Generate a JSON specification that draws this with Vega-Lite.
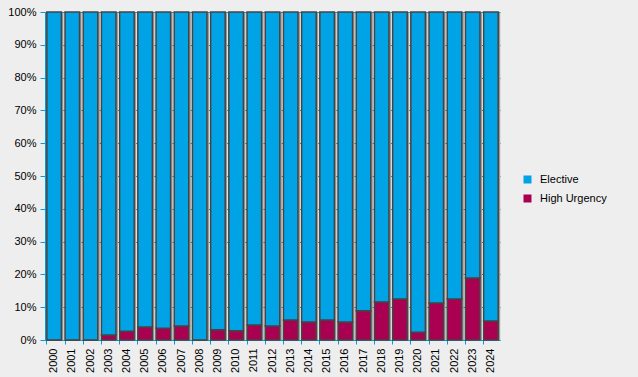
{
  "$schema": "https://vega.github.io/schema/vega-lite/v6.json",
  "width": 455,
  "height": 328,
  "autosize": "none",
  "padding": {"left": 45, "top": 12, "right": 138, "bottom": 37},
  "background": "#eeeeee",
  "config": {
    "view": {"stroke": null},
    "font": "Liberation Sans",
    "axis": {"labelFont": "Liberation Sans", "labelFontSize": 11, "labelColor": "#000000", "domainColor": "#0a9ad6", "tickColor": "#0a9ad6", "labelOverlap": false},
    "legend": {"labelFont": "Liberation Sans", "labelFontSize": 11, "labelColor": "#000000"}
  },
  "data": {
    "values": [
      {"year": "2000", "type": "High Urgency", "value": 0.0},
      {"year": "2001", "type": "High Urgency", "value": 0.0},
      {"year": "2002", "type": "High Urgency", "value": 0.0},
      {"year": "2003", "type": "High Urgency", "value": 0.015},
      {"year": "2004", "type": "High Urgency", "value": 0.027},
      {"year": "2005", "type": "High Urgency", "value": 0.040},
      {"year": "2006", "type": "High Urgency", "value": 0.036},
      {"year": "2007", "type": "High Urgency", "value": 0.043},
      {"year": "2008", "type": "High Urgency", "value": 0.0},
      {"year": "2009", "type": "High Urgency", "value": 0.031},
      {"year": "2010", "type": "High Urgency", "value": 0.028},
      {"year": "2011", "type": "High Urgency", "value": 0.046},
      {"year": "2012", "type": "High Urgency", "value": 0.043},
      {"year": "2013", "type": "High Urgency", "value": 0.061},
      {"year": "2014", "type": "High Urgency", "value": 0.055},
      {"year": "2015", "type": "High Urgency", "value": 0.061},
      {"year": "2016", "type": "High Urgency", "value": 0.055},
      {"year": "2017", "type": "High Urgency", "value": 0.089},
      {"year": "2018", "type": "High Urgency", "value": 0.116},
      {"year": "2019", "type": "High Urgency", "value": 0.125},
      {"year": "2020", "type": "High Urgency", "value": 0.024},
      {"year": "2021", "type": "High Urgency", "value": 0.113},
      {"year": "2022", "type": "High Urgency", "value": 0.125},
      {"year": "2023", "type": "High Urgency", "value": 0.189},
      {"year": "2024", "type": "High Urgency", "value": 0.058},
      {"year": "2000", "type": "Elective", "value": 1.0},
      {"year": "2001", "type": "Elective", "value": 1.0},
      {"year": "2002", "type": "Elective", "value": 1.0},
      {"year": "2003", "type": "Elective", "value": 0.985},
      {"year": "2004", "type": "Elective", "value": 0.973},
      {"year": "2005", "type": "Elective", "value": 0.960},
      {"year": "2006", "type": "Elective", "value": 0.964},
      {"year": "2007", "type": "Elective", "value": 0.957},
      {"year": "2008", "type": "Elective", "value": 1.0},
      {"year": "2009", "type": "Elective", "value": 0.969},
      {"year": "2010", "type": "Elective", "value": 0.972},
      {"year": "2011", "type": "Elective", "value": 0.954},
      {"year": "2012", "type": "Elective", "value": 0.957},
      {"year": "2013", "type": "Elective", "value": 0.939},
      {"year": "2014", "type": "Elective", "value": 0.945},
      {"year": "2015", "type": "Elective", "value": 0.939},
      {"year": "2016", "type": "Elective", "value": 0.945},
      {"year": "2017", "type": "Elective", "value": 0.911},
      {"year": "2018", "type": "Elective", "value": 0.884},
      {"year": "2019", "type": "Elective", "value": 0.875},
      {"year": "2020", "type": "Elective", "value": 0.976},
      {"year": "2021", "type": "Elective", "value": 0.887},
      {"year": "2022", "type": "Elective", "value": 0.875},
      {"year": "2023", "type": "Elective", "value": 0.811},
      {"year": "2024", "type": "Elective", "value": 0.942}
    ]
  },
  "encoding": {
    "x": {
      "field": "year", "type": "ordinal",
      "scale": {"paddingInner": 0.2, "paddingOuter": 0.1},
      "axis": {"title": null, "labelAngle": -90, "bandPosition": 0, "tickSize": 4, "labelPadding": 4, "labelBaseline": "middle", "labelAlign": "right"}
    }
  },
  "layer": [
    {
      "mark": {"type": "bar", "color": "#9a9a9a", "xOffset": 2, "yOffset": 1},
      "encoding": {
        "y": {
          "field": "value", "type": "quantitative", "aggregate": "sum",
          "scale": {"domain": [0, 1], "nice": false},
          "axis": {"title": null, "format": ".0%", "values": [0,0.1,0.2,0.3,0.4,0.5,0.6,0.7,0.8,0.9,1.0], "grid": true, "gridColor": "#0a9ad6", "gridWidth": 1, "tickSize": 5, "labelPadding": 4}
        }
      }
    },
    {
      "mark": {"type": "bar", "stroke": "#444444", "strokeWidth": 1.5},
      "encoding": {
        "y": {
          "field": "value", "type": "quantitative", "stack": "zero",
          "scale": {"domain": [0, 1], "nice": false},
          "axis": {"title": null, "format": ".0%", "values": [0,0.1,0.2,0.3,0.4,0.5,0.6,0.7,0.8,0.9,1.0], "grid": true, "gridColor": "#0a9ad6", "gridWidth": 1, "tickSize": 5, "labelPadding": 4}
        },
        "color": {
          "field": "type", "type": "nominal",
          "scale": {"domain": ["Elective", "High Urgency"], "range": ["#00a3e6", "#aa0052"]},
          "legend": {"title": null, "orient": "none", "legendX": 477, "legendY": 162, "symbolType": "square", "symbolSize": 64, "symbolStrokeWidth": 0, "rowPadding": 7, "labelOffset": 7}
        },
        "order": {"field": "type", "sort": "descending"}
      }
    }
  ]
}
